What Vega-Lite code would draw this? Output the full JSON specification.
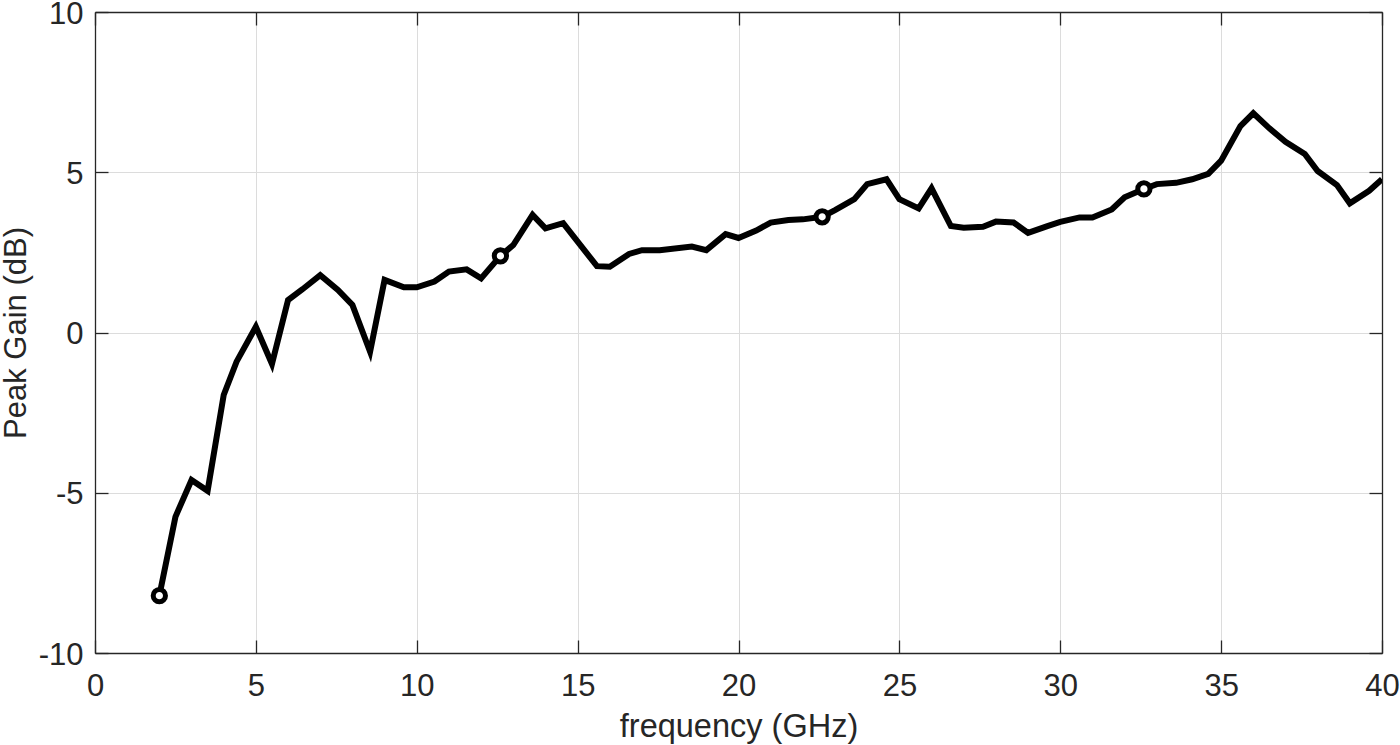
{
  "$schema": "https://vega.github.io/schema/vega-lite/v6.json",
  "autosize": {"type": "none"},
  "padding": {"left": 95, "top": 12, "right": 18, "bottom": 92},
  "width": 1287,
  "height": 641,
  "background": "white",
  "config": {
    "view": {"stroke": null},
    "font": "Liberation Sans",
    "axis": {
      "labelFont": "Liberation Sans",
      "titleFont": "Liberation Sans",
      "labelFontSize": 31,
      "titleFontSize": 31,
      "labelColor": "#262626",
      "titleColor": "#262626",
      "titleFontWeight": "normal",
      "domainColor": "#262626",
      "domainWidth": 1.3,
      "tickColor": "#262626",
      "tickWidth": 1.3,
      "gridColor": "#dcdcdc",
      "gridWidth": 1,
      "gridOpacity": 1
    }
  },
  "data": {
    "values": [
      {"f": 2.0, "g": -8.21, "m": true},
      {"f": 2.5, "g": -5.75, "m": false},
      {"f": 3.0, "g": -4.6, "m": false},
      {"f": 3.5, "g": -4.94, "m": false},
      {"f": 4.0, "g": -1.95, "m": false},
      {"f": 4.4, "g": -0.91, "m": false},
      {"f": 5.0, "g": 0.18, "m": false},
      {"f": 5.5, "g": -0.98, "m": false},
      {"f": 6.0, "g": 1.01, "m": false},
      {"f": 6.45, "g": 1.35, "m": false},
      {"f": 7.0, "g": 1.79, "m": false},
      {"f": 7.55, "g": 1.33, "m": false},
      {"f": 8.0, "g": 0.86, "m": false},
      {"f": 8.55, "g": -0.6, "m": false},
      {"f": 9.0, "g": 1.64, "m": false},
      {"f": 9.6, "g": 1.41, "m": false},
      {"f": 10.0, "g": 1.41, "m": false},
      {"f": 10.55, "g": 1.59, "m": false},
      {"f": 11.0, "g": 1.9, "m": false},
      {"f": 11.55, "g": 1.97, "m": false},
      {"f": 12.0, "g": 1.69, "m": false},
      {"f": 12.6, "g": 2.39, "m": true},
      {"f": 13.0, "g": 2.73, "m": false},
      {"f": 13.6, "g": 3.67, "m": false},
      {"f": 14.0, "g": 3.25, "m": false},
      {"f": 14.55, "g": 3.41, "m": false},
      {"f": 15.6, "g": 2.07, "m": false},
      {"f": 16.0, "g": 2.05, "m": false},
      {"f": 16.6, "g": 2.45, "m": false},
      {"f": 17.0, "g": 2.57, "m": false},
      {"f": 17.55, "g": 2.57, "m": false},
      {"f": 18.55, "g": 2.68, "m": false},
      {"f": 19.0, "g": 2.57, "m": false},
      {"f": 19.6, "g": 3.07, "m": false},
      {"f": 20.0, "g": 2.95, "m": false},
      {"f": 20.55, "g": 3.18, "m": false},
      {"f": 21.0, "g": 3.43, "m": false},
      {"f": 21.55, "g": 3.51, "m": false},
      {"f": 22.0, "g": 3.53, "m": false},
      {"f": 22.6, "g": 3.61, "m": true},
      {"f": 23.0, "g": 3.82, "m": false},
      {"f": 23.6, "g": 4.16, "m": false},
      {"f": 24.0, "g": 4.63, "m": false},
      {"f": 24.6, "g": 4.78, "m": false},
      {"f": 25.0, "g": 4.16, "m": false},
      {"f": 25.6, "g": 3.87, "m": false},
      {"f": 26.0, "g": 4.5, "m": false},
      {"f": 26.6, "g": 3.32, "m": false},
      {"f": 27.0, "g": 3.27, "m": false},
      {"f": 27.6, "g": 3.3, "m": false},
      {"f": 28.0, "g": 3.46, "m": false},
      {"f": 28.55, "g": 3.43, "m": false},
      {"f": 29.0, "g": 3.11, "m": false},
      {"f": 29.6, "g": 3.32, "m": false},
      {"f": 30.0, "g": 3.45, "m": false},
      {"f": 30.6, "g": 3.59, "m": false},
      {"f": 31.0, "g": 3.59, "m": false},
      {"f": 31.6, "g": 3.84, "m": false},
      {"f": 32.0, "g": 4.22, "m": false},
      {"f": 32.6, "g": 4.48, "m": true},
      {"f": 33.0, "g": 4.63, "m": false},
      {"f": 33.6, "g": 4.67, "m": false},
      {"f": 34.1, "g": 4.78, "m": false},
      {"f": 34.6, "g": 4.95, "m": false},
      {"f": 35.0, "g": 5.36, "m": false},
      {"f": 35.6, "g": 6.44, "m": false},
      {"f": 36.0, "g": 6.84, "m": false},
      {"f": 36.5, "g": 6.37, "m": false},
      {"f": 37.0, "g": 5.95, "m": false},
      {"f": 37.6, "g": 5.57, "m": false},
      {"f": 38.0, "g": 5.04, "m": false},
      {"f": 38.6, "g": 4.6, "m": false},
      {"f": 39.0, "g": 4.03, "m": false},
      {"f": 39.6, "g": 4.42, "m": false},
      {"f": 40.0, "g": 4.78, "m": false}
    ]
  },
  "layer": [
    {
      "mark": {"type": "line", "color": "black", "strokeWidth": 6, "strokeJoin": "miter", "strokeCap": "butt", "clip": true},
      "encoding": {
        "x": {
          "field": "f", "type": "quantitative",
          "scale": {"domain": [0, 40], "nice": false, "zero": false},
          "axis": {
            "orient": "bottom",
            "values": [0, 5, 10, 15, 20, 25, 30, 35, 40],
            "title": "frequency (GHz)",
            "titleFontSize": 32.5,
            "grid": true,
            "tickSize": -13,
            "labelPadding": 31,
            "labelExpr": "'' + datum.value",
            "labelFlush": false,
            "labelOverlap": false,
            "titleY": 83,
            "titleBaseline": "alphabetic"
          }
        },
        "y": {
          "field": "g", "type": "quantitative",
          "scale": {"domain": [-10, 10], "nice": false, "zero": false},
          "axis": {
            "orient": "left",
            "values": [-10, -5, 0, 5, 10],
            "title": "Peak Gain (dB)",
            "grid": true,
            "tickSize": -13,
            "labelPadding": 25,
            "labelOffset": 2,
            "labelExpr": "'' + datum.value",
            "labelFlush": false,
            "labelOverlap": false,
            "titleX": -70,
            "titleBaseline": "alphabetic"
          }
        }
      }
    },
    {
      "transform": [{"filter": "datum.m"}],
      "mark": {"type": "point", "shape": "circle", "filled": false, "fill": "white", "fillOpacity": 1, "stroke": "black", "strokeWidth": 5, "size": 150, "opacity": 1},
      "encoding": {
        "x": {
          "field": "f", "type": "quantitative",
          "scale": {"domain": [0, 40], "nice": false, "zero": false},
          "axis": {
            "orient": "top",
            "values": [0, 5, 10, 15, 20, 25, 30, 35, 40],
            "title": null,
            "grid": false,
            "labels": false,
            "tickSize": -13
          }
        },
        "y": {
          "field": "g", "type": "quantitative",
          "scale": {"domain": [-10, 10], "nice": false, "zero": false},
          "axis": {
            "orient": "right",
            "values": [-10, -5, 0, 5, 10],
            "title": null,
            "grid": false,
            "labels": false,
            "tickSize": -13
          }
        }
      }
    }
  ],
  "resolve": {"axis": {"x": "independent", "y": "independent"}}
}
